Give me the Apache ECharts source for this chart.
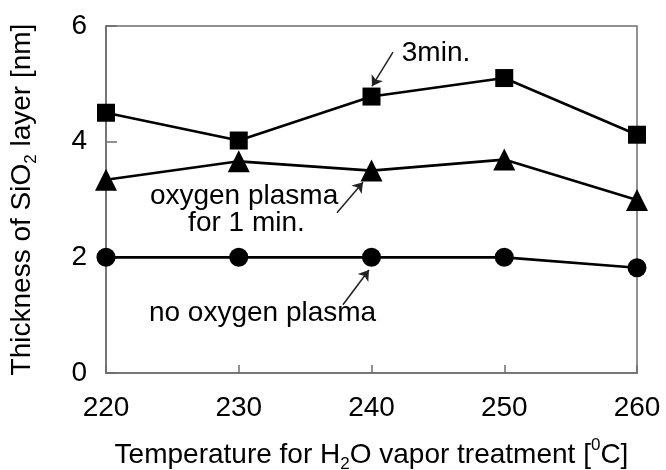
<!DOCTYPE html>
<html>
<head>
<meta charset="utf-8">
<script src="https://cdn.jsdelivr.net/npm/echarts@6/dist/echarts.min.js"></script>
<style>
html,body{margin:0;padding:0;background:#fff;}
#chart{width:666px;height:470px;}
</style>
</head>
<body>
<div id="chart"></div>
<script>
// Data
var temperatures = [220, 230, 240, 250, 260];
var threeMin = [4.5, 4.02, 4.78, 5.1, 4.12];
var oneMin = [3.34, 3.66, 3.5, 3.69, 2.99];
var noPlasma = [2.0, 2.0, 2.0, 2.0, 1.82];
var yTicks = [0, 2, 4, 6];
var xTicks = [220, 230, 240, 250, 260];

// Annotation texts and arrows (data coordinates)
var annotationTexts = [
  [244.86, 5.53, '3min.'],
  [230.40, 3.06, 'oxygen plasma'],
  [230.58, 2.59, 'for 1 min.'],
  [231.79, 1.04, 'no oxygen plasma']
];
var annotationArrows = [
  [[241.62, 5.55], [240.04, 4.96]],
  [[237.40, 2.77], [239.36, 3.30]],
  [[237.85, 1.18], [239.81, 1.78]]
];

var FONT = '"Liberation Sans", Arial, sans-serif';

function pairs(xs, ys) {
  return xs.map(function (x, i) { return [x, ys[i]]; });
}

var chart = echarts.init(document.getElementById('chart'), null, {renderer: 'canvas'});

var lineSeries = function (name, vals, symbol, size) {
  return {
    name: name,
    type: 'line',
    data: pairs(temperatures, vals),
    symbol: symbol,
    symbolSize: size,
    showAllSymbol: true,
    lineStyle: {color: '#000', width: 2.6},
    itemStyle: {color: '#000', borderWidth: 0, opacity: 1},
    z: 3,
    animation: false
  };
};

chart.setOption({
  animation: false,
  backgroundColor: '#fff',
  grid: {
    left: 106, right: 29, top: 26, bottom: 97,
    containLabel: false,
    outerBoundsMode: 'none',
    show: true, borderColor: '#6e6e6e', borderWidth: 1.5, backgroundColor: 'transparent'
  },
  xAxis: {
    type: 'value',
    min: xTicks[0], max: xTicks[xTicks.length - 1], interval: 10,
    axisLine: {show: true, lineStyle: {color: '#6e6e6e', width: 1.5}},
    axisTick: {show: true, inside: true, length: 8, lineStyle: {color: '#6e6e6e', width: 1.5}},
    splitLine: {show: false},
    axisLabel: {
      color: '#000', fontSize: 28, fontFamily: FONT, margin: 21,
      formatter: function (v) { return xTicks.indexOf(v) >= 0 ? String(v) : ''; }
    },
    name: 'Temperature for H{sub|2}O vapor treatment [{sup|0}C]',
    nameLocation: 'middle',
    nameGap: 64,
    nameTextStyle: {
      color: '#000', fontSize: 28, fontFamily: FONT, lineHeight: 34,
      rich: {
        sub: {fontSize: 17, fontFamily: FONT, color: '#000', verticalAlign: 'bottom', lineHeight: 36},
        sup: {fontSize: 17, fontFamily: FONT, color: '#000', verticalAlign: 'top', lineHeight: 34}
      }
    }
  },
  yAxis: {
    type: 'value',
    min: yTicks[0], max: yTicks[yTicks.length - 1], interval: 2,
    axisLine: {show: true, lineStyle: {color: '#6e6e6e', width: 1.5}},
    axisTick: {show: true, inside: true, length: 11, lineStyle: {color: '#6e6e6e', width: 1.5}},
    splitLine: {show: false},
    axisLabel: {
      color: '#000', fontSize: 28, fontFamily: FONT, margin: 19,
      formatter: function (v) { return yTicks.indexOf(v) >= 0 ? String(v) : ''; }
    },
    name: 'Thickness of SiO{sub|2} layer [nm]',
    nameLocation: 'middle',
    nameRotate: 90,
    nameGap: 66,
    nameTextStyle: {
      color: '#000', fontSize: 28, fontFamily: FONT, lineHeight: 34,
      rich: {
        sub: {fontSize: 17, fontFamily: FONT, color: '#000', verticalAlign: 'bottom', lineHeight: 36}
      }
    }
  },
  series: [
    lineSeries('3min.', threeMin, 'rect', 18),
    lineSeries('oxygen plasma for 1 min.', oneMin, 'triangle', 22),
    lineSeries('no oxygen plasma', noPlasma, 'circle', 19),
    {
      name: 'labels',
      type: 'scatter',
      data: annotationTexts,
      symbolSize: 0,
      silent: true,
      z: 5,
      itemStyle: {opacity: 1, color: '#000'},
      label: {
        show: true, position: 'inside', color: '#000', fontSize: 28, fontFamily: FONT,
        opacity: 1,
        formatter: function (p) { return p.value[2]; }
      },
      animation: false
    },
    {
      name: 'arrows',
      type: 'lines',
      coordinateSystem: 'cartesian2d',
      data: annotationArrows.map(function (a) { return {coords: a}; }),
      symbol: ['none', 'arrow'],
      symbolSize: 10,
      lineStyle: {color: '#222', width: 1.5, opacity: 1},
      silent: true,
      z: 4,
      animation: false
    }
  ]
});
</script>
</body>
</html>
